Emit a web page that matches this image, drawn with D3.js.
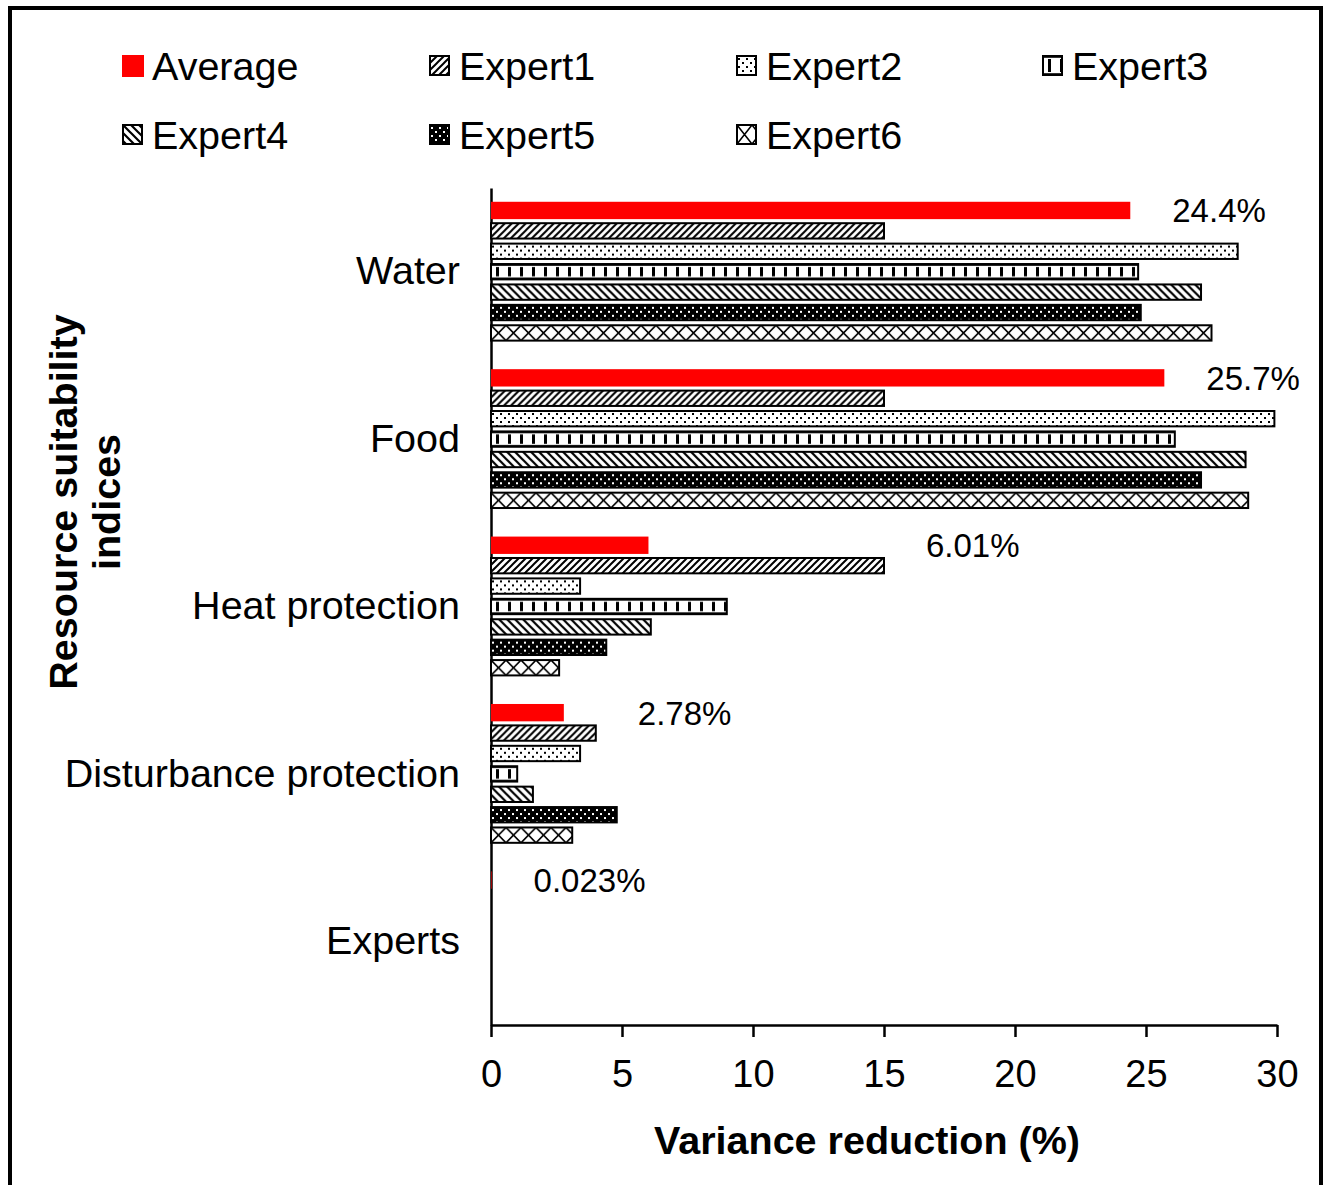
<!DOCTYPE html>
<html>
<head>
<meta charset="utf-8">
<script src="https://cdn.jsdelivr.net/npm/d3@7"></script>
<style>
  body { margin: 0; background: #fff; }
  svg { display: block; font-family: "Liberation Sans", Arial, Helvetica, sans-serif; }
</style>
</head>
<body>
<svg id="chart" width="1327" height="1185"></svg>
<script>
// Variance reduction (%) per resource suitability index
const categories = ["Water", "Food", "Heat protection", "Disturbance protection", "Experts"];
const seriesNames = ["Average", "Expert1", "Expert2", "Expert3", "Expert4", "Expert5", "Expert6"];
const average = [24.4, 25.7, 6.01, 2.78, 0.023];
const expert1 = [15.0, 15.0, 15.0, 4.0, 0];
const expert2 = [28.5, 29.9, 3.4, 3.4, 0];
const expert3 = [24.7, 26.1, 9.0, 1.0, 0];
const expert4 = [27.1, 28.8, 6.1, 1.6, 0];
const expert5 = [24.8, 27.1, 4.4, 4.8, 0];
const expert6 = [27.5, 28.9, 2.6, 3.1, 0];
const averageLabels = ["24.4%", "25.7%", "6.01%", "2.78%", "0.023%"];
const xTicks = [0, 5, 10, 15, 20, 25, 30];

const seriesValues = [average, expert1, expert2, expert3, expert4, expert5, expert6];

const svg = d3.select("#chart");
const defs = svg.append("defs");

svg.append("rect").attr("width", 1327).attr("height", 1185).attr("fill", "#fff");
// outer frame
svg.append("rect")
  .attr("x", 10).attr("y", 8).attr("width", 1311).attr("height", 1210)
  .attr("fill", "none").attr("stroke", "#000").attr("stroke-width", 4);

const x = d3.scaleLinear().domain([0, 30]).range([491, 1277]);
const y0 = d3.scaleBand().domain(categories).range([188, 1025]);
const y1 = d3.scaleBand().domain(seriesNames).range([0, y0.bandwidth()])
  .paddingInner(0.15).paddingOuter(0.675);
const bw = y1.bandwidth();

// Fill patterns, anchored at (px, py) with inner height h
let patCount = 0;
function makePattern(s, px, py, h) {
  const id = "pat" + (patCount++);
  let p;
  if (s === 1) {          // forward diagonal hatch
    p = defs.append("pattern").attr("id", id).attr("patternUnits", "userSpaceOnUse")
      .attr("width", 7).attr("height", 7).attr("patternTransform", `translate(${px},${py})`);
    p.append("rect").attr("width", 7).attr("height", 7).attr("fill", "#fff");
    p.append("path").attr("d", "M-1,1 l2,-2 M0,7 l7,-7 M6,8 l2,-2")
      .attr("stroke", "#000").attr("stroke-width", 2);
  } else if (s === 2) {   // light dots
    p = defs.append("pattern").attr("id", id).attr("patternUnits", "userSpaceOnUse")
      .attr("width", 8).attr("height", 8).attr("patternTransform", `translate(${px},${py})`);
    p.append("rect").attr("width", 8).attr("height", 8).attr("fill", "#fff");
    p.append("rect").attr("x", 1).attr("y", 2).attr("width", 2).attr("height", 2).attr("fill", "#000");
    p.append("rect").attr("x", 5).attr("y", 6).attr("width", 2).attr("height", 2).attr("fill", "#000");
  } else if (s === 3) {   // vertical dashes with edge rules
    p = defs.append("pattern").attr("id", id).attr("patternUnits", "userSpaceOnUse")
      .attr("width", 12).attr("height", h).attr("patternTransform", `translate(${px},${py})`);
    p.append("rect").attr("width", 12).attr("height", h).attr("fill", "#fff");
    p.append("rect").attr("x", 5).attr("y", 3).attr("width", 3).attr("height", h - 6).attr("fill", "#000");
    p.append("rect").attr("x", 0).attr("y", 0).attr("width", 12).attr("height", 1.8).attr("fill", "#000");
    p.append("rect").attr("x", 0).attr("y", h - 1.8).attr("width", 12).attr("height", 1.8).attr("fill", "#000");
  } else if (s === 4) {   // backward diagonal hatch
    p = defs.append("pattern").attr("id", id).attr("patternUnits", "userSpaceOnUse")
      .attr("width", 8).attr("height", 8).attr("patternTransform", `translate(${px},${py})`);
    p.append("rect").attr("width", 8).attr("height", 8).attr("fill", "#fff");
    p.append("path").attr("d", "M-1,7 l2,2 M0,0 l8,8 M7,-1 l2,2")
      .attr("stroke", "#000").attr("stroke-width", 2.2);
  } else if (s === 5) {   // dark with light dots
    p = defs.append("pattern").attr("id", id).attr("patternUnits", "userSpaceOnUse")
      .attr("width", 8).attr("height", 8).attr("patternTransform", `translate(${px},${py})`);
    p.append("rect").attr("width", 8).attr("height", 8).attr("fill", "#000");
    p.append("rect").attr("x", 1).attr("y", 2).attr("width", 2).attr("height", 2).attr("fill", "#fff");
    p.append("rect").attr("x", 5).attr("y", 6).attr("width", 2).attr("height", 2).attr("fill", "#fff");
  } else {                // crossed diagonals (diamonds)
    p = defs.append("pattern").attr("id", id).attr("patternUnits", "userSpaceOnUse")
      .attr("width", 15).attr("height", h).attr("patternTransform", `translate(${px},${py})`);
    p.append("rect").attr("width", 15).attr("height", h).attr("fill", "#fff");
    p.append("path").attr("d", `M0,0 L15,${h} M0,${h} L15,0`)
      .attr("stroke", "#000").attr("stroke-width", 1.6);
  }
  return "url(#" + id + ")";
}

// Axes
const xAxis = d3.axisBottom(x).tickValues(xTicks).tickSize(12).tickSizeOuter(0)
  .tickPadding(23).tickFormat(d3.format("d"));
const gx = svg.append("g").attr("transform", `translate(0,${y0.range()[1]})`).call(xAxis);
gx.selectAll("path, line").attr("stroke", "#000").attr("stroke-width", 2.5);
gx.selectAll("text").attr("font-size", 38).attr("fill", "#000");

const yAxis = d3.axisLeft(y0).tickSize(0).tickSizeOuter(0).tickPadding(31);
const gy = svg.append("g").attr("transform", `translate(${x(0)},0)`).call(yAxis);
gy.select(".domain").attr("stroke", "#000").attr("stroke-width", 2.5);
gy.selectAll("text").attr("font-size", 39.5).attr("fill", "#000");
svg.selectAll(".tick text").attr("font-family", "Liberation Sans, Arial, sans-serif");

// Bars
const bars = svg.append("g");
categories.forEach((cat, i) => {
  seriesNames.forEach((name, s) => {
    const v = seriesValues[s][i];
    if (!(v > 0)) return;
    const yb = y0(cat) + y1(name);
    if (s === 0) {
      bars.append("rect")
        .attr("x", x(0)).attr("y", yb)
        .attr("width", x(v) - x(0)).attr("height", bw)
        .attr("fill", "#ff0000");
    } else {
      const h = bw - 2;
      bars.append("rect")
        .attr("x", x(0)).attr("y", yb + 1)
        .attr("width", x(v) - x(0)).attr("height", h)
        .attr("fill", makePattern(s, x(0), yb + 1, h))
        .attr("stroke", "#000").attr("stroke-width", 2);
    }
  });
});

// Value labels for the Average series, placed past the longer of the top two bars
categories.forEach((cat, i) => {
  const anchorVal = Math.max(average[i], expert1[i]);
  svg.append("text")
    .attr("x", x(anchorVal) + 42)
    .attr("y", y0(cat) + y1("Average") + bw / 2)
    .attr("dy", "0.36em")
    .attr("font-size", 33)
    .attr("fill", "#000")
    .text(averageLabels[i]);
});

// Legend
const legendCols = [122, 429, 736, 1042];
const legendRows = [66, 135];
seriesNames.forEach((name, s) => {
  const lx = legendCols[s % 4];
  const ly = legendRows[Math.floor(s / 4)];
  if (s === 0) {
    svg.append("rect").attr("x", lx).attr("y", ly - 11).attr("width", 22).attr("height", 22)
      .attr("fill", "#ff0000");
  } else {
    const sz = 19;
    svg.append("rect").attr("x", lx + 1).attr("y", ly - 10).attr("width", sz).attr("height", sz)
      .attr("fill", makePattern(s, lx + 1, ly - 10, sz))
      .attr("stroke", "#000").attr("stroke-width", 2);
  }
  svg.append("text").attr("x", lx + 30).attr("y", ly).attr("dy", "0.36em")
    .attr("font-size", 39.5).attr("fill", "#000").text(name);
});

// Axis titles
svg.append("text").attr("x", 867).attr("y", 1154).attr("text-anchor", "middle")
  .attr("font-size", 39.5).attr("font-weight", "bold").attr("fill", "#000")
  .text("Variance reduction (%)");
svg.append("text").attr("transform", "translate(77,502) rotate(-90)").attr("text-anchor", "middle")
  .attr("font-size", 39.5).attr("font-weight", "bold").attr("fill", "#000")
  .text("Resource suitability");
svg.append("text").attr("transform", "translate(120,502) rotate(-90)").attr("text-anchor", "middle")
  .attr("font-size", 39.5).attr("font-weight", "bold").attr("fill", "#000")
  .text("indices");
</script>
</body>
</html>
